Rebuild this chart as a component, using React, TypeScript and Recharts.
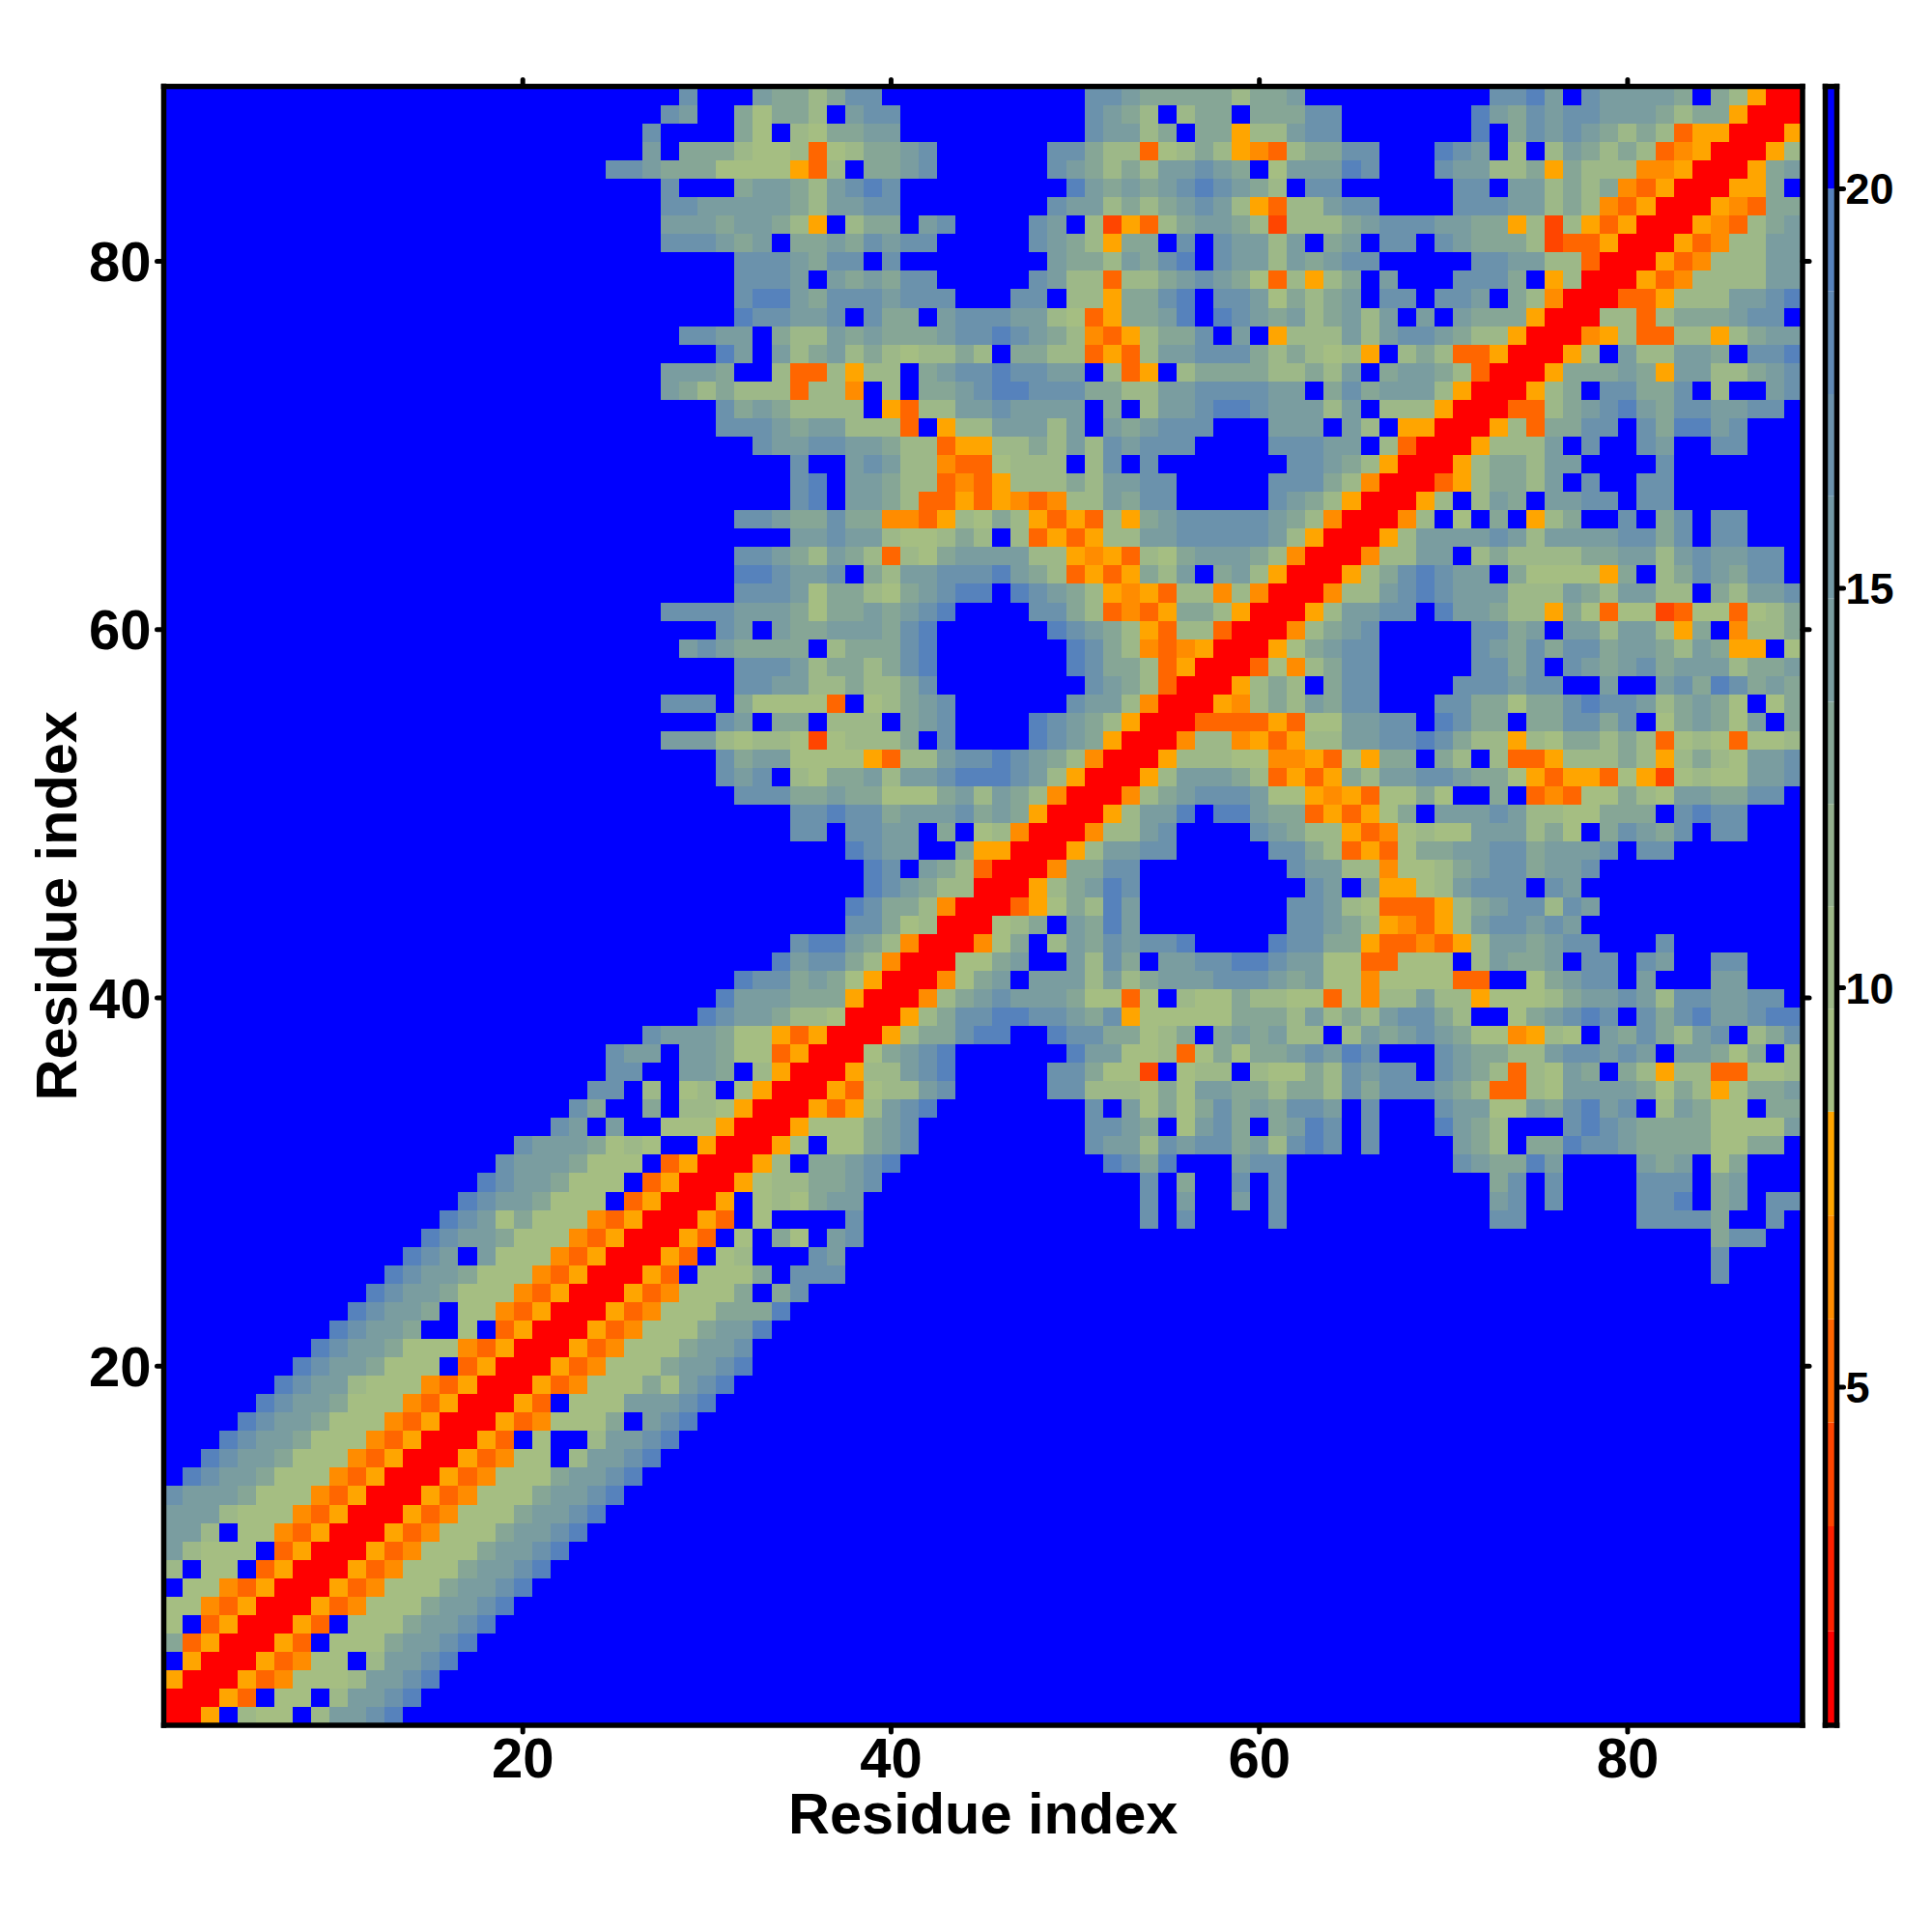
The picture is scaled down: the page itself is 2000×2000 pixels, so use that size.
import React from 'react';
import { BarChart, Bar, ScatterChart, Scatter, XAxis, YAxis, Label } from 'recharts';

// contact map: each row is "startColumn:codes", anything not listed is beyond the cutoff (blue)
const residueCount = 89;
const axisTicks = [20, 40, 60, 80];
const colorbarTicks = [5, 10, 15, 20];

const bandTops = [1.95, 3.26, 4.56, 5.85, 7.15, 8.45, 9.73, 11.02, 12.3, 13.58, 14.87, 16.15, 17.43, 18.72, 20, 21.28];
const bandColors = ['#FF0000', '#FF2000', '#FF4500', '#FF6600', '#FF8C00', '#FFA500', '#A5BE82', '#9DB888', '#93AF8E', '#86A696', '#7A9DA0', '#7399A5', '#6B92AC', '#6089B4', '#5682BC', '#0000FF'];
const codeValues: Record<string, number> = { r: 1.4, t: 3.9, u: 5.2, v: 6.5, w: 7.8, a: 9.1, b: 10.4, c: 12.9, d: 14.5, e: 17, f: 19.5, '.': 21 };

const rowsFromTop = [
  '29:e 33:dccbcee 51:eedcccccbccd 73:eefd.eddddc.cbwrr',
  '28:ed 32:caccb.dee 51:edcb.bcc.cccee 72:fdcedeedddcbccwrrr',
  '27:e 32:ca.baccdd 51:eddbc.ccwbbdee 72:f.cededcbcbuwwrrrw',
  '27:d 29:cccbaabuabccde 49:eecbbuabcbwvubccee 70:fed.b.bdcbcbuvwrrrwb',
  '25:eedcccaaaawub.ccde 49:edcbcbddedc.adddfe 70:eddbbcwcbbbvvwrrrwcd',
  '28:e 32:cddcbdefe 50:fdcdcdefedcb.ee 71:ee.ddbcbcvuwrrrwwc.',
  '28:eedddddcbddee 49:eddbcbcdedbwubbdee 71:eeeddbcbvuwrrrwvucc',
  '28:dddcddcbw.bcc.de 48:ed.btwubcddcbtbbbcdeeeddccwbtbwuwrrrwvubcd',
  '28:eeedcd.ccdcedee 48:edcbwcc.e.eddbd.cd.ee.edcccbtuuwrrrwuvbbdd',
  '32:eeedcee.e 49:dccbdcef.eddbdcdee 72:eeddbburrrwuvbbbdd',
  '32:eeed.dcdcee 48:edbbubbcdedcaubwbc.d...eeec.wbrrrwuvbbbbdd',
  '32:effdceeedeee 47:ee.bbwccef.eedacbcd.ee.eed.cbvrrruuwbbbddef',
  '32:feedde.ecc.deeeddbauwccdf.fedcdbcdbd.d.dcccwrrrbbubcccdee.',
  '29:eedd.cbbdcdcccdeefedcbvuwbcce.d.wbbbdbdeedcbbwrrrvwbuubbwbcdd',
  '31:fd.dbcdbcbabbcb.ccbbuwubddeeecbcbabw.bcbuuwrrrwb.dbbddc.eef',
  '28:dddc..buubwbb.cdeefeedd.buw.bccccbbcbd.cddcburrrwcccdcwddbbcde',
  '28:dcbcbbbubbv.b.ccdeffeeeccbbddeeeedd.cecdddbwrrrwbc.eecce.b..de',
  '31:ecdcbbbb.wubbddedddd.c.bddeffedddbd.bbbwrrruubcdefdceeddee.',
  '31:eeedcddbbbu.wbbdddbd.dcdeee...ddd.db.wwrrrwbuccee.ecffde',
  '33:eddeeddcbbuwwbbcbdbedeee 61:eeedd.burrrwbbbd.e..ed..ee',
  '35:e 38:dedbbvuuabbb.be.e 62:eedcbwrrrwbccbdd 82:e',
  '35:ef 38:ddcbbuvuwbbbcbddee 61:eeecbvrrruwbccbd.e..ee',
  '35:ef 38:ddcbuuwuwvuvbbdcee 61:edcbwrrrwb.bdc.ddee.ee',
  '32:eedcceccvvuwbacbwuwubwcdeeeeedcbvrrrvb.a.c.wbc..e.ce.ee',
  '35:ddeddbaabcb.buwuwbbddeeeeedbwrrrwbddddedbddddeece.ee',
  '32:eedcbdcbubacddddbbwvwubacdddcbvrrrvbbdd.bcbbbbccddbdeddee',
  '32:ffedde.cbddeeefdcbuwuwcbd.cdbwrrrwbcefedd.caaaawc.bcedcee',
  '32:eeedaccbacdeff.fedcbwvwubbvbvrrrvbbdefedddbbbdcbddbb.cbdde',
  '28:eeeedddcaccdcdef 48:eecbuvuwccbwrrrwbddee.fddcbbwcauaatuaauabc',
  '31:ed.dccdddcef 49:fedcbwubburrrvbcde 72:eecd.ddbddbwc.vbbc',
  '29:dedcccc.bcccef 50:fecbvuvwrrrwacdee 72:edceceecddcbdcww.a',
  '32:eeedbccbcef 50:feccbuwrrruavbcee 72:eece.edcdecdddbccd',
  '32:eeddbbcbbce 51:edcburrrwbcb.cee 71:eeedee..d..decfecdcd',
  '28:eee.caaaau.abcde 50:eddbvrrrwvbcbdcee 70:eeccaccefeedbcdca.ac',
  '31:ed.cc.bbb.cde 48:fedcbwrrruuuuwuaaddee.fecc.cceece.acdcad.c',
  '28:dddbabbatabbbc.e 48:fedcwrrrvbbvwuwbbddeefecbbwbaccbcbuabauaab',
  '31:ecddaaaawubbdeefedcbvrrrwbbbaavvwuawcc.cb.buuwbbbcbwbcbadde',
  '31:ede.baccdbddefffedbwrrrwbdddcbuwuwcbddeedccawuwwuawtabaadde',
  '32:eeeccdccaaacdbdcbvrrrvbcdeeedaawvwuaaca..c.uvuaacbaddccee',
  '35:eefeecdddecdcwrrrwbddf.ffdccuwuwac.dddedbbaaccc.efee',
  '35:ee.eedd.c.abvrrrvbbde 60:edcbbwuvabaadddbca.cedce.ee',
  '38:fedd..cwwrrrwbddee 61:eecbuwuaccddeecddde.ee',
  '39:fe.dcburrrvccee 62:eddbbvaabcdeecdde',
  '39:fedcbbrrrwbcdfe 63:ed.cwwabdeee.ed',
  '38:feccbvrrruwacbfd 62:eedbauuuwbcdeebed',
  '38:eecabrrrabc.dcfd 62:eedcbwvuwbdeeded',
  '35:effdcbvrrrvac.bdcedeef 61:feeccwuuvuwbddcdee 82:e',
  '34:fdeecbvrrraacd..dbec.ddeef 60:feddaauuaaa.bdccd.ee.ed..ee',
  '32:feecdcawrrrvacd.dddbdbcdddeeedcdaavaaaauu..acdee.d...dd',
  '31:fdddcccwrrrvbcdedddcaaua.baacbbaauavbbdbbwaaabcddedbeeddee',
  '30:feddcbbarrrwbceeffeedcewaaaaacccbdbcbdeecb..acdefe.ecefddeff',
  '27:edddcaawuwrrrwbcceff..feeccabc.cdcdbb.bdcdedcaavwba.dcecbde.bcee',
  '25:edd.ddcaauwrrracdef 50:fddaabuacaccdedfe...edccbbdeeded.ddcac.b',
  '25:ee..ddc.bwrrrwbbdef 49:eecaat.abb.baacbedee.edcbubadc.cbwbbuuaab',
  '24:ee.b.ab.awrrrwuabbde 49:eebbbacaddccbccbeceeedcbuubaddddcacbwaccd',
  '23:ec..c.bbawrrrwuwbdef 51:e.dacacecdceed.e 70:eddaadcefde.bdcaa.cc',
  '22:ed.d..aaawrrrwaaacde 51:eedc.adec.cdfe.e 70:fdcb...efedccccaaaad',
  '20:edddcaba..wrrrwa.aacde 51:eddbedeecdbefe.e 71:dcb.ccfeedccccaacc',
  '19:edddcaaa.uwrrrwb.ccdef 52:fecf 59:dee 71:edccfd 81:dcd.ac',
  '18:feddcaaa.uwrrrwabbccde 54:e.c 59:e.e 73:ce.e 81:eee.cd',
  '17:feddcaaa.uwrrrw.abacdd 54:e.d 59:d.e 73:de.e 81:eef.cd.ee',
  '16:fedacaaavuwrrrwu.a 38:e 54:e.e 61:e 73:ee 81:eeeec 88:e',
  '15:feddcaaavuwrrrwu.a.ca.de 85:cee',
  '14:fed.daaavuwrrrwu.ab...ed 85:e',
  '13:feddcaaavuwrrrwu.aaac.eee 85:e',
  '12:feddcaaavuwrrrwuvaaac.ce',
  '11:feddc.aavuwrrrwuvaaacccf',
  '10:feddc..a.uwrrrwuvaaacddf',
  '9:feddcaaavuwrrrwuvaaacdde',
  '8:feddcaaa.uwrrrwuvaaacddef',
  '7:feddbaaavuwrrrwuvaaacadef',
  '6:feddcaaavuwrrrwu.aaadddef',
  '5:feddcaaavuwrrrwuvaaac.def',
  '4:feddcaaavuwrrrwu.a..bddef',
  '3:feddcaaavuwrrrwuvaa.bddef',
  '2:feddcaaavuwrrrwuvaaacddef',
  '1:edddcaaavuwrrrwuvaaacddef',
  '1:dddbaaavuwrrrwuvaaacddef',
  '1:ddb.aavuwrrrwuvaaacddef',
  '1:dbaaa.uwrrrwuvaaacddef',
  '1:b.aa.uwrrrwuvaaacddef',
  '1:.aavuwrrrwuvaaacddef',
  '1:aavuwrrrwuvaaacddef',
  '1:a.uwrrrwu.aaacddef',
  '1:cuwrrrwu.aaacddef',
  '1:.wrrrwuvaa.bddef',
  '1:wrrrwuvaaabddef',
  '1:rrrwu.aa.bddef',
  '1:rrw.baa.bddef',
];

const colorFor = (value: number) => bandColors[bandTops.findIndex((top) => value <= top)];

const cells: { x: number; y: number; value: number }[] = [];
for (let y = 1; y <= residueCount; y++) {
  for (let x = 1; x <= residueCount; x++) cells.push({ x, y, value: 21 });
}
rowsFromTop.forEach((row, i) => {
  const y = residueCount - i;
  row.split(' ').forEach((segment) => {
    const [start, codes] = segment.split(':');
    [...codes].forEach((code, k) => {
      const x = Number(start) + k;
      if (x <= residueCount) cells[(y - 1) * residueCount + x - 1].value = codeValues[code];
    });
  });
});

const bandRow: Record<string, number> = { name: 0 };
bandTops.forEach((top, i) => {
  bandRow['b' + i] = top - (i ? bandTops[i - 1] : 0);
});

const CHART = 2000;
const PLOT = { left: 169.5, right: 134, top: 89.5, bottom: 214 };
const CELL = (CHART - PLOT.left - PLOT.right) / residueCount;
const RESIDUE_DOMAIN: [number, number] = [0.5, 89.5];
const COLORBAR_DOMAIN: [number, number] = [0.77, 21.28];
const FONT = '"Liberation Sans", Arial, sans-serif';
const tickStyle = { fill: '#000', fontFamily: FONT, fontWeight: 700, fontSize: 58 };
const frame = { stroke: '#000', strokeWidth: 5.5, strokeLinecap: 'square' as const };
const tickMark = { stroke: '#000', strokeWidth: 5, strokeLinecap: 'round' as const };
const layer = { position: 'absolute' as const, left: 0, top: 0 };

function HeatCell(props: any) {
  const { cx, cy, payload } = props;
  return (
    <rect
      x={cx - CELL / 2}
      y={cy - CELL / 2}
      width={CELL + 0.3}
      height={CELL + 0.3}
      fill={colorFor(payload.value)}
      shapeRendering="crispEdges"
    />
  );
}

export default function App() {
  return (
    <div style={{ ...layer, width: CHART, height: CHART, background: '#fff' }}>
      {/* cells first, then a second chart holding only the axes so the frame sits on top */}
      <div style={layer}>
        <ScatterChart width={CHART} height={CHART} margin={PLOT}>
          <XAxis hide type="number" dataKey="x" domain={RESIDUE_DOMAIN} allowDataOverflow />
          <YAxis hide type="number" dataKey="y" domain={RESIDUE_DOMAIN} allowDataOverflow />
          <Scatter data={cells} isAnimationActive={false} shape={HeatCell} />
        </ScatterChart>
      </div>
      <div style={layer}>
        <ScatterChart width={CHART} height={CHART} margin={{ left: 0, bottom: 0, top: PLOT.top - 1, right: PLOT.right - 1 }}>
          <XAxis
            xAxisId="bottom"
            type="number"
            dataKey="x"
            domain={RESIDUE_DOMAIN}
            ticks={axisTicks}
            height={PLOT.bottom}
            axisLine={frame}
            tickLine={tickMark}
            tickSize={7}
            tickMargin={6}
            tick={tickStyle}
          >
            <Label
              value="Residue index"
              position="insideBottom"
              offset={102}
              style={{ fontFamily: FONT, fontWeight: 700, fontSize: 59.5, fill: '#000' }}
            />
          </XAxis>
          <XAxis xAxisId="top" orientation="top" type="number" dataKey="x" domain={RESIDUE_DOMAIN} ticks={axisTicks} height={1} axisLine={frame} tickLine={tickMark} tickSize={7} tickFormatter={() => ''} />
          <YAxis
            yAxisId="left"
            type="number"
            dataKey="y"
            domain={RESIDUE_DOMAIN}
            ticks={axisTicks}
            width={PLOT.left}
            axisLine={frame}
            tickLine={tickMark}
            tickSize={7}
            tickMargin={6}
            tick={tickStyle}
          >
            <Label
              value="Residue index"
              angle={-90}
              position="insideLeft"
              offset={58}
              style={{ fontFamily: FONT, fontWeight: 700, fontSize: 59.5, fill: '#000', textAnchor: 'middle' }}
            />
          </YAxis>
          <YAxis yAxisId="right" orientation="right" type="number" dataKey="y" domain={RESIDUE_DOMAIN} ticks={axisTicks} width={1} axisLine={frame} tickLine={tickMark} tickSize={7} tickFormatter={() => ''} />
          <Scatter data={cells.slice(0, 1)} xAxisId="bottom" yAxisId="left" isAnimationActive={false} shape={() => null} />
          <Scatter data={cells.slice(0, 1)} xAxisId="top" yAxisId="right" isAnimationActive={false} shape={() => null} />
        </ScatterChart>
      </div>
      <div style={{ ...layer, left: 1860 }}>
        <BarChart
          width={140}
          height={CHART}
          data={[bandRow]}
          margin={{ left: 29.5, right: 98.5, top: PLOT.top, bottom: PLOT.bottom }}
          barCategoryGap={0}
        >
          <XAxis hide dataKey="name" />
          <YAxis hide type="number" domain={COLORBAR_DOMAIN} allowDataOverflow />
          {bandTops.map((_, i) => (
            <Bar key={i} dataKey={'b' + i} stackId="bands" fill={bandColors[i]} isAnimationActive={false} />
          ))}
        </BarChart>
      </div>
      <div style={{ ...layer, left: 1860 }}>
        <BarChart
          width={140}
          height={CHART}
          data={[bandRow]}
          margin={{ left: 28.5, right: 0.5, top: PLOT.top - 1, bottom: PLOT.bottom - 1 }}
        >
          <XAxis dataKey="name" xAxisId="bottom" height={1} axisLine={frame} tick={false} tickLine={false} />
          <XAxis dataKey="name" xAxisId="top" orientation="top" height={1} axisLine={frame} tick={false} tickLine={false} />
          <YAxis yAxisId="left" width={1} type="number" domain={COLORBAR_DOMAIN} axisLine={frame} tick={false} tickLine={false} />
          <YAxis
            yAxisId="right"
            orientation="right"
            type="number"
            width={98}
            domain={COLORBAR_DOMAIN}
            ticks={colorbarTicks}
            axisLine={frame}
            tickLine={tickMark}
            tickSize={7}
            tickMargin={2}
            tick={{ ...tickStyle, fontSize: 45 }}
          />
          <Bar dataKey="b0" xAxisId="bottom" yAxisId="left" fill="none" isAnimationActive={false} />
          <Bar dataKey="b0" xAxisId="top" yAxisId="right" fill="none" isAnimationActive={false} />
        </BarChart>
      </div>
    </div>
  );
}
